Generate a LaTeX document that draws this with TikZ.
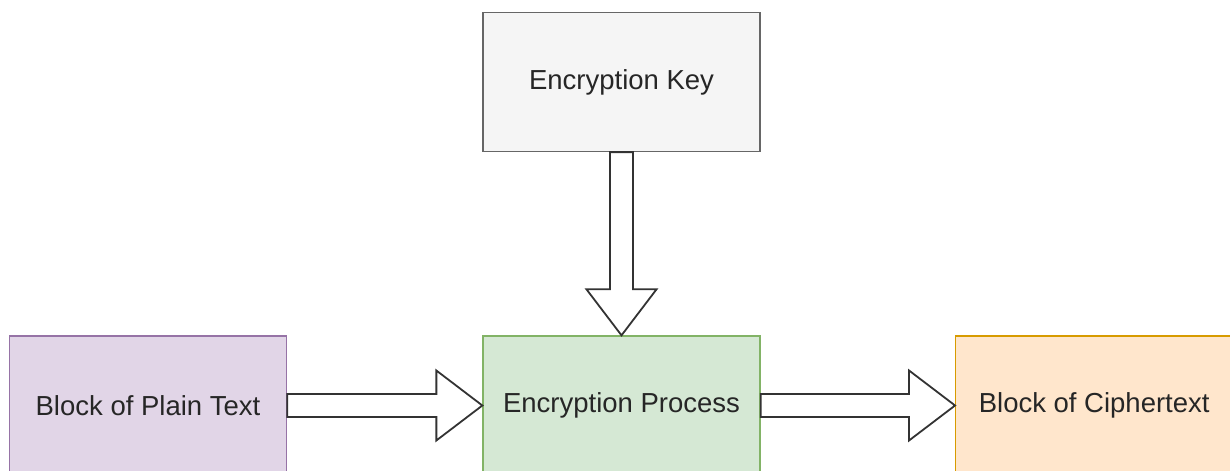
\documentclass[tikz,border=0pt]{standalone}
\usepackage{fontspec}
\setmainfont{Liberation Sans}
\usetikzlibrary{calc}
\definecolor{keyfill}{HTML}{F5F5F5}\definecolor{keydraw}{HTML}{666666}
\definecolor{plainfill}{HTML}{E1D5E7}\definecolor{plaindraw}{HTML}{9673A6}
\definecolor{procfill}{HTML}{D5E8D4}\definecolor{procdraw}{HTML}{82B366}
\definecolor{ciphfill}{HTML}{FFE6CC}\definecolor{ciphdraw}{HTML}{D79B00}
\definecolor{txt}{HTML}{262626}\definecolor{arrdraw}{HTML}{333333}
\tikzset{
  box/.style={draw, line width=1.3bp, minimum width=277bp, minimum height=139bp, inner sep=0pt,
    text=txt, font=\fontsize{27.5bp}{31bp}\selectfont},
  fat/.style={draw=arrdraw, fill=white, line width=1.8bp, line join=miter}
}
\begin{document}
\begin{tikzpicture}[x=1bp,y=-1bp]
\useasboundingbox (0,0) rectangle (1230,471);
\clip (0,0) rectangle (1230,471);
\node[box, fill=keyfill, draw=keydraw] (key) at (621.5,82) {\raisebox{-2bp}{Encryption Key}};
\node[box, fill=plainfill, draw=plaindraw] (plain) at (148,405.5) {\raisebox{-2bp}{Block of Plain Text}};
\node[box, fill=procfill, draw=procdraw] (proc) at (621.5,405.5) {\raisebox{-2bp}{Encryption Process}};
\node[box, fill=ciphfill, draw=ciphdraw] (ciph) at (1094.2,405.5) {\raisebox{-2bp}{Block of Ciphertext}};
% key -> process
\draw[fat] ($(key.south)+(-11.5,0)$) -- ($(proc.north)+(-11.5,-46)$) -- ($(proc.north)+(-35,-46)$)
  -- (proc.north) -- ($(proc.north)+(35,-46)$) -- ($(proc.north)+(11.5,-46)$)
  -- ($(key.south)+(11.5,0)$) -- cycle;
% plain -> process
\draw[fat] ($(plain.east)+(0,-11.5)$) -- ($(proc.west)+(-46,-11.5)$) -- ($(proc.west)+(-46,-35)$)
  -- (proc.west) -- ($(proc.west)+(-46,35)$) -- ($(proc.west)+(-46,11.5)$)
  -- ($(plain.east)+(0,11.5)$) -- cycle;
% process -> cipher
\draw[fat] ($(proc.east)+(0,-11.5)$) -- ($(ciph.west)+(-46,-11.5)$) -- ($(ciph.west)+(-46,-35)$)
  -- (ciph.west) -- ($(ciph.west)+(-46,35)$) -- ($(ciph.west)+(-46,11.5)$)
  -- ($(proc.east)+(0,11.5)$) -- cycle;
\end{tikzpicture}
\end{document}
